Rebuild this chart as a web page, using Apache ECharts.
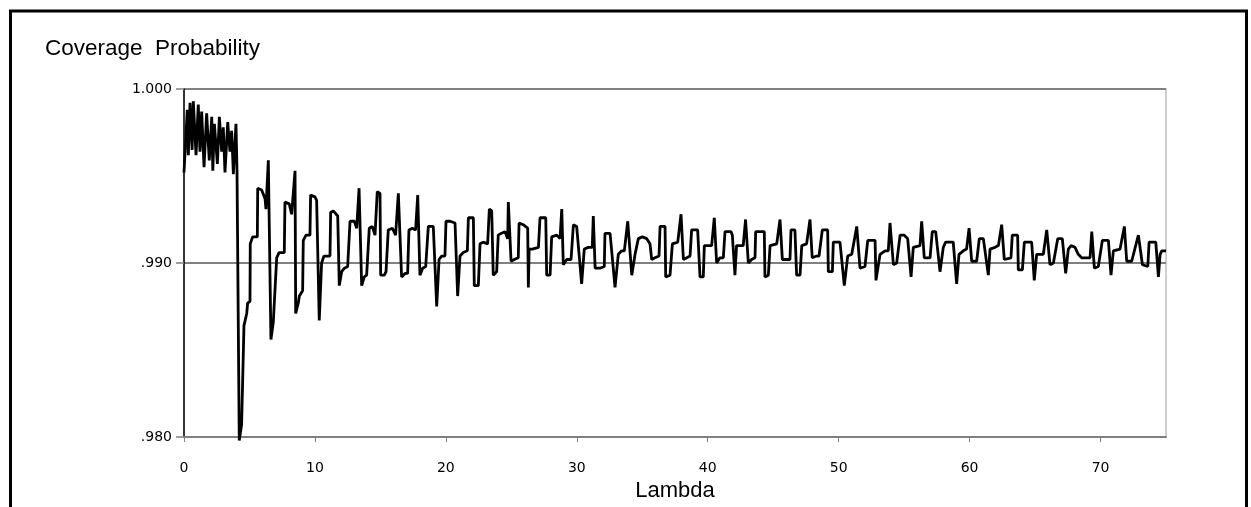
<!DOCTYPE html>
<html>
<head>
<meta charset="utf-8">
<script src="https://cdn.jsdelivr.net/npm/echarts@6/dist/echarts.min.js"></script>
<style>
html,body{margin:0;padding:0;background:#fff;}
#c{width:1251px;height:507px;}
</style>
</head>
<body>
<div id="c"></div>
<script>
// ---- data ----
const titleText = 'Coverage  Probability';
const xName = 'Lambda';
const xTicks = [0, 10, 20, 30, 40, 50, 60, 70];
const yTicks = [0.98, 0.99, 1.0];
const yTickLabels = ['.980', '.990', '1.000'];

const lambdaVals = [
0.00,0.25,0.33,0.46,0.62,0.71,0.92,1.09,1.22,1.35,1.53,1.73,1.93,2.12,2.20,2.32,2.55,2.70,2.88,3.00,3.13,3.34,3.51,3.64,3.77,3.97,4.05,4.22,
4.40,4.58,4.79,4.86,5.04,5.06,5.24,5.60,5.63,5.93,6.19,6.26,6.44,6.64,6.82,7.08,7.26,7.66,7.71,8.04,8.22,8.48,8.53,8.73,8.81,9.06,9.11,9.32,9.62,9.67,10.00,10.13,10.33,10.51,10.69,11.15,11.20,11.40,11.74,11.86,12.04,12.25,12.50,12.68,13.01,13.19,13.37,13.57,13.77,13.95,14.15,14.38,14.59,14.76,14.97,15.02,15.30,15.43,15.60,15.91,16.16,16.37,16.62,16.88,17.08,17.18,17.44,17.69,17.85,18.02,18.23,18.46,18.66,19.04,19.17,19.30,19.48,19.68,19.93,20.01,20.32,20.70,20.90,21.08,21.33,21.64,21.72,22.10,22.17,22.48,22.61,22.86,23.19,23.32,23.50,23.62,23.88,24.00,24.21,24.52,24.72,24.77,24.98,25.22,25.53,25.59,25.91,26.25,26.30,26.36,26.60,27.07,27.19,27.63,27.70,27.96,28.08,28.47,28.72,28.85,28.97,29.23,29.56,29.74,29.99,30.37,30.57,30.88,31.18,31.26,31.40,31.77,32.10,32.15,32.54,32.67,32.92,33.17,33.43,33.63,33.89,34.20,34.45,34.70,35.00,35.34,35.59,35.72,35.97,36.28,36.36,36.74,36.79,37.12,37.30,37.71,37.96,38.14,38.40,38.65,38.77,39.23,39.41,39.66,39.74,40.30,40.50,40.68,40.93,41.19,41.32,41.78,41.88,42.08,42.20,42.71,42.89,43.10,43.35,43.61,43.66,44.32,44.37,44.63,44.76,45.27,45.52,45.70,46.02,46.28,46.36,46.66,46.79,47.05,47.18,47.55,47.81,47.98,48.32,48.50,48.75,49.16,49.21,49.52,49.59,50.10,50.43,50.69,51.00,51.38,51.63,52.01,52.22,52.78,52.85,53.16,53.54,53.79,53.92,54.00,54.18,54.43,54.69,55.01,55.27,55.53,55.70,56.21,56.34,56.54,56.98,57.15,57.41,57.74,57.99,58.17,58.75,59.01,59.19,59.52,59.77,59.96,60.16,60.54,60.74,61.05,61.20,61.43,61.56,61.94,62.20,62.45,62.65,63.16,63.26,63.67,63.72,64.03,64.18,64.74,64.94,65.12,65.63,65.89,66.14,66.40,66.73,67.08,67.34,67.54,67.75,68.05,68.30,68.56,69.20,69.33,69.53,69.83,70.14,70.60,70.80,70.98,71.49,71.82,72.00,72.38,72.89,73.20,73.61,73.71,74.22,74.42,74.55,74.68,75.00
];
const coverageVals = [
.9952,.9988,.9962,.9992,.9965,.9993,.9962,.9991,.9964,.9987,.9955,.9986,.9959,.9984,.9953,.9980,.9957,.9984,.9964,.9978,.9952,.9981,.9964,.9976,.9951,.9980,.9952,.9798,
.9807,.9864,.9871,.9877,.9878,.9911,.9915,.9915,.9943,.9942,.9937,.9931,.9959,.9856,.9866,.9903,.9906,.9906,.9935,.9934,.9928,.9953,.9871,.9877,.9881,.9884,.9913,.9916,.9916,.9939,.9938,.9936,.9867,.9900,.9904,.9904,.9929,.9930,.9927,.9887,.9895,.9897,.9898,.9924,.9924,.9920,.9943,.9887,.9892,.9893,.9920,.9921,.9916,.9941,.9940,.9893,.9893,.9895,.9919,.9920,.9916,.9940,.9892,.9894,.9894,.9919,.9920,.9919,.9939,.9893,.9897,.9898,.9921,.9921,.9920,.9875,.9902,.9904,.9904,.9924,.9924,.9923,.9881,.9904,.9906,.9907,.9926,.9926,.9887,.9887,.9911,.9912,.9911,.9931,.9930,.9893,.9895,.9916,.9917,.9918,.9914,.9935,.9901,.9902,.9903,.9923,.9922,.9920,.9886,.9908,.9908,.9909,.9926,.9926,.9893,.9893,.9915,.9916,.9914,.9931,.9899,.9902,.9902,.9922,.9921,.9888,.9908,.9909,.9909,.9927,.9897,.9897,.9898,.9917,.9917,.9916,.9886,.9905,.9907,.9907,.9924,.9893,.9905,.9914,.9915,.9914,.9911,.9902,.9903,.9904,.9921,.9921,.9892,.9893,.9911,.9912,.9928,.9902,.9903,.9904,.9919,.9919,.9892,.9892,.9910,.9910,.9926,.9900,.9903,.9903,.9918,.9918,.9916,.9893,.9910,.9910,.9925,.9900,.9902,.9903,.9918,.9918,.9892,.9893,.9910,.9911,.9925,.9902,.9902,.9902,.9919,.9919,.9893,.9893,.9910,.9911,.9925,.9903,.9904,.9904,.9919,.9919,.9895,.9895,.9912,.9912,.9887,.9904,.9905,.9921,.9897,.9898,.9913,.9913,.9890,.9905,.9907,.9907,.9923,.9923,.9899,.9900,.9916,.9916,.9914,.9892,.9909,.9910,.9924,.9903,.9903,.9918,.9918,.9895,.9909,.9912,.9912,.9888,.9905,.9907,.9908,.9920,.9901,.9901,.9914,.9914,.9913,.9893,.9908,.9909,.9910,.9922,.9902,.9903,.9916,.9916,.9896,.9896,.9912,.9912,.9890,.9905,.9905,.9919,.9899,.9900,.9914,.9914,.9894,.9908,.9910,.9909,.9905,.9903,.9903,.9918,.9897,.9898,.9913,.9913,.9893,.9907,.9908,.9921,.9901,.9901,.9916,.9899,.9898,.9912,.9912,.9892,.9905,.9907,.9907
];
// ---------------------------------------------

const seriesData = lambdaVals.map((l, i) => [l, coverageVals[i]]);

const chart = echarts.init(document.getElementById('c'), null, {renderer: 'canvas'});
const tickFont = 'DejaVu Sans';
chart.setOption({
  animation: false,
  backgroundColor: '#ffffff',
  title: {
    text: titleText,
    left: 45, top: 37, padding: 0,
    textStyle: {fontFamily: 'Liberation Sans', fontSize: 22.5, fontWeight: 'normal', color: '#000'}
  },
  graphic: [{
    type: 'rect', z: 100, silent: true,
    shape: {x: 10.5, y: 11, width: 1236, height: 600},
    style: {fill: 'none', stroke: '#000', lineWidth: 3}
  }],
  grid: {
    left: 184, right: 85, top: 89, bottom: 67,
    show: true, borderColor: '#c0c0c0', borderWidth: 1.5, backgroundColor: 'transparent'
  },
  xAxis: {
    type: 'value', min: 0, max: 75, interval: 10,
    name: xName, nameLocation: 'middle', nameGap: 43,
    nameTextStyle: {fontFamily: 'Liberation Sans', fontSize: 22, color: '#000'},
    axisLine: {show: true, onZero: false, lineStyle: {color: '#808080', width: 2}},
    axisTick: {show: true, customValues: xTicks, length: 5, lineStyle: {color: '#808080', width: 1}},
    axisLabel: {customValues: xTicks, margin: 24, fontFamily: tickFont, fontSize: 14, color: '#000'},
    splitLine: {show: false}
  },
  yAxis: {
    type: 'value', min: 0.98, max: 1.0, interval: 0.01,
    axisLine: {show: true, onZero: false, lineStyle: {color: '#000', width: 1.5}},
    axisTick: {show: true, length: 8, lineStyle: {color: '#808080', width: 1.5}},
    axisLabel: {
      margin: 12, fontFamily: tickFont, fontSize: 14, color: '#000',
      formatter: function (v) {
        let best = 0, bd = Infinity;
        yTicks.forEach((t, i) => { const d = Math.abs(t - v); if (d < bd) { bd = d; best = i; } });
        return yTickLabels[best];
      }
    },
    splitLine: {show: true, lineStyle: {color: '#808080', width: 2}}
  },
  series: [{
    type: 'line', data: seriesData, showSymbol: false, clip: false,
    lineStyle: {color: '#000', width: 2.8}, z: 10
  }]
});
</script>
</body>
</html>
